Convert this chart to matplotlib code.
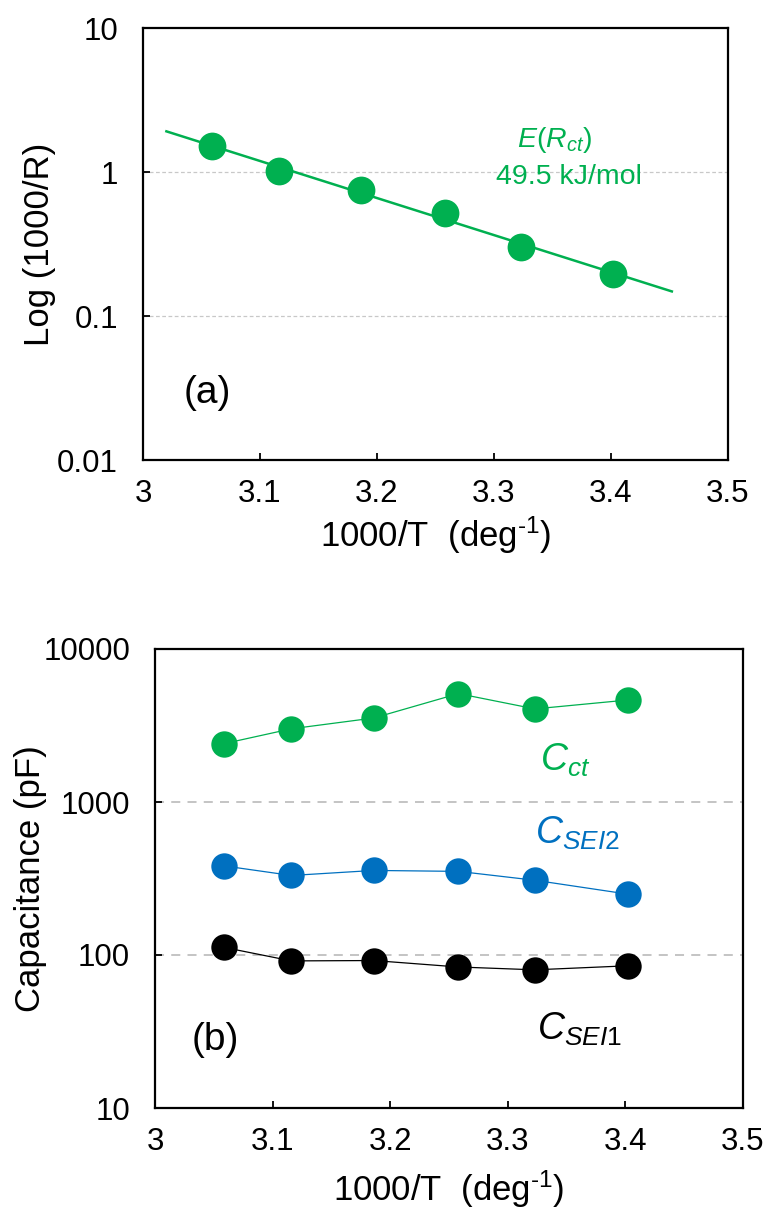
import numpy as np
import matplotlib
matplotlib.use("Agg")
import matplotlib.pyplot as plt
from matplotlib.ticker import FixedLocator, FixedFormatter, NullLocator

plt.rcParams["font.family"] = ["Liberation Sans", "DejaVu Sans"]
plt.rcParams["mathtext.fontset"] = "custom"
plt.rcParams["mathtext.rm"] = "Liberation Sans"
plt.rcParams["mathtext.it"] = "Liberation Sans:italic"
plt.rcParams["mathtext.bf"] = "Liberation Sans:bold"

# ---- data ----
inv_T = [3.059, 3.116, 3.186, 3.258, 3.323, 3.402]

# panel (a): 1000/R
inv_R = [1.52, 1.01, 0.75, 0.52, 0.30, 0.195]
fit_range = [3.02, 3.452]

# panel (b): capacitances (pF)
c_ct = [2410, 3010, 3540, 5110, 4060, 4640]
c_sei2 = [382, 331, 357, 352, 308, 250]
c_sei1 = [112, 91.5, 92, 83.5, 80, 85]

xticks = [3.0, 3.1, 3.2, 3.3, 3.4, 3.5]
xticklabels = ["3", "3.1", "3.2", "3.3", "3.4", "3.5"]
yticks_a = [0.01, 0.1, 1, 10]
yticklabels_a = ["0.01", "0.1", "1", "10"]
yticks_b = [10, 100, 1000, 10000]
yticklabels_b = ["10", "100", "1000", "10000"]

GREEN = "#00B050"
BLUE = "#0070C0"
BLACK = "#000000"

fig = plt.figure(figsize=(7.7, 12.09), dpi=100)
ax_a = fig.add_axes([143 / 770, 1 - 460 / 1209, 585 / 770, 432 / 1209])
ax_b = fig.add_axes([155 / 770, 1 - 1108 / 1209, 588 / 770, 459 / 1209])


def style_axes(ax, yticks, yticklabels, ylim, grid_style):
	ax.set_xlim(3.0, 3.5)
	ax.set_yscale("log")
	ax.set_ylim(*ylim)
	ax.xaxis.set_major_locator(FixedLocator(xticks))
	ax.xaxis.set_major_formatter(FixedFormatter(xticklabels))
	ax.yaxis.set_major_locator(FixedLocator(yticks))
	ax.yaxis.set_major_formatter(FixedFormatter(yticklabels))
	ax.yaxis.set_minor_locator(NullLocator())
	ax.xaxis.set_minor_locator(NullLocator())
	ax.tick_params(axis="both", direction="in", length=5, width=1.3, labelsize=22.5)
	ax.tick_params(axis="x", pad=14)
	ax.tick_params(axis="y", pad=18)
	for s in ax.spines.values():
		s.set_linewidth(1.6)
	# dashed horizontal gridlines at inner decades only
	for yv in yticks[1:-1]:
		ax.axhline(yv, zorder=0, **grid_style)
	ax.set_xlabel("1000/T  (deg$^{\\text{-1}}$)", fontsize=25)


# ---- panel (a) ----
style_axes(ax_a, yticks_a, yticklabels_a, (0.01, 10),
	dict(color="#c8c8c8", lw=0.9, ls=(0, (3, 2))))
coef = np.polyfit(inv_T, np.log10(inv_R), 1)
xf = np.array(fit_range)
ax_a.plot(xf, 10 ** np.polyval(coef, xf), color=GREEN, lw=1.8, zorder=2)
ax_a.plot(inv_T, inv_R, "o", color=GREEN, ms=20, mec="none", zorder=3)
ax_a.set_ylabel("Log (1000/R)", fontsize=25)
ax_a.yaxis.set_label_coords(-0.148, 0.5)
ax_a.xaxis.set_label_coords(0.5, -0.127)
ax_a.text(3.352, 1.67, "$E$($R_{ct}$)", color=GREEN, fontsize=20.5, ha="center", va="center")
ax_a.text(3.364, 0.92, "49.5 kJ/mol", color=GREEN, fontsize=20.5, ha="center", va="center")
ax_a.text(3.055, 0.029, "(a)", fontsize=28, ha="center", va="center")

# ---- panel (b) ----
style_axes(ax_b, yticks_b, yticklabels_b, (10, 10000),
	dict(color="#bfbfbf", lw=1.3, ls=(0, (5, 4))))
for vals, col in [(c_ct, GREEN), (c_sei2, BLUE), (c_sei1, BLACK)]:
	ax_b.plot(inv_T, vals, "-", color=col, lw=0.9, zorder=2)
	ax_b.plot(inv_T, vals, "o", color=col, ms=19, mec="none", zorder=3)
ax_b.set_ylabel("Capacitance (pF)", fontsize=25)
ax_b.yaxis.set_label_coords(-0.184, 0.5)
ax_b.xaxis.set_label_coords(0.5, -0.132)
ax_b.text(3.349, 1880, "$\\mathit{C}_{\\mathit{ct}}$", color=GREEN, fontsize=27, ha="center", va="center")
ax_b.text(3.359, 627, "$\\mathit{C}_{\\mathit{SEI2}}$", color=BLUE, fontsize=27, ha="center", va="center")
ax_b.text(3.361, 32.8, "$\\mathit{C}_{\\mathit{SEI1}}$", color=BLACK, fontsize=27, ha="center", va="center")
ax_b.text(3.051, 27.8, "(b)", fontsize=28, ha="center", va="center")

fig.savefig("out.png", dpi=100)
